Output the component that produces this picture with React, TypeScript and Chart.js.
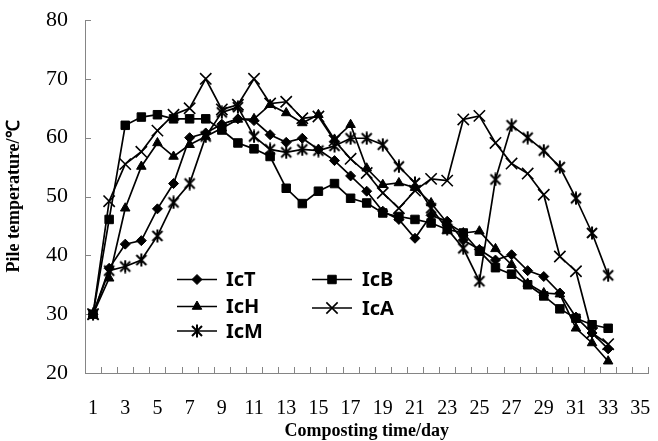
import React, { useEffect, useRef } from 'react';
import { Chart, registerables } from 'chart.js';
import { drawPoint } from 'chart.js/helpers';

Chart.register(...registerables);

const dayLabels = ['1','2','3','4','5','6','7','8','9','10','11','12','13','14','15','16','17','18','19','20','21','22','23','24','25','26','27','28','29','30','31','32','33','34','35'];
const yTicks = [20, 30, 40, 50, 60, 70, 80];

const IcT = [30, 37.8, 41.9, 42.5, 47.9, 52.2, 60.0, 60.8, 62.3, 63.2, 62.9, 60.5, 59.2, 59.9, 58.0, 56.1, 53.5, 50.9, 47.5, 46.1, 42.9, 46.8, 45.8, 42.6, 41.0, 39.2, 40.1, 37.4, 36.4, 33.6, 29.5, 26.8, 24.1];
const IcH = [30, 36.1, 48.0, 55.1, 59.1, 56.8, 58.8, 60.2, 61.6, 63.1, 63.2, 65.6, 64.2, 62.5, 63.9, 59.7, 62.2, 54.8, 52.0, 52.3, 51.5, 48.9, 45.5, 43.8, 44.1, 41.1, 38.4, 35.2, 33.6, 33.4, 27.6, 25.1, 22.0];
const IcM = [30, 37.4, 38.1, 39.2, 43.3, 49.0, 52.2, 60.2, 64.3, 65.2, 60.2, 58.0, 57.5, 58.0, 57.8, 58.6, 59.9, 59.9, 58.8, 55.1, 52.3, 48.0, 44.5, 41.2, 35.6, 52.9, 62.1, 60.0, 57.8, 55.0, 49.7, 43.8, 36.6];
const IcB = [30, 46.1, 62.1, 63.5, 63.9, 63.2, 63.2, 63.2, 61.3, 59.1, 58.1, 56.8, 51.4, 48.8, 50.9, 52.2, 49.7, 48.9, 47.2, 46.6, 46.1, 45.5, 44.4, 43.8, 40.7, 37.9, 36.8, 35.0, 33.1, 30.9, 29.3, 28.2, 27.6];
const IcA = [30, 49.2, 55.5, 57.6, 61.2, 63.9, 65.0, 70.0, 64.8, 65.6, 70.0, 65.8, 66.1, 63.3, 63.6, 59.5, 56.4, 54.0, 50.6, 48.0, 51.0, 53.0, 52.7, 63.1, 63.7, 59.1, 55.6, 53.9, 50.3, 39.8, 37.3, 26.8, 24.9];

const seriesNames = ['IcT', 'IcH', 'IcM', 'IcB', 'IcA'];

const AXIS = '#858585';

function makeAsterisk(): HTMLCanvasElement {
  const c = document.createElement('canvas');
  c.width = 14; c.height = 14;
  const g = c.getContext('2d')!;
  g.strokeStyle = '#000';
  g.lineWidth = 2;
  g.beginPath();
  g.moveTo(2, 2); g.lineTo(12, 12);
  g.moveTo(12, 2); g.lineTo(2, 12);
  g.moveTo(7, 0.5); g.lineTo(7, 13.5);
  g.stroke();
  return c;
}

const insideTicks = {
  id: 'insideTicks',
  beforeDatasetsDraw(chart: any) {
    const { ctx, chartArea, scales } = chart;
    const xs = scales.x, ys = scales.y;
    ctx.save();
    ctx.strokeStyle = AXIS;
    ctx.lineWidth = 1;
    ctx.beginPath();
    ys.ticks.forEach((t: any) => {
      const py = Math.round(ys.getPixelForValue(t.value)) + 0.5;
      ctx.moveTo(chartArea.left, py);
      ctx.lineTo(chartArea.left + 6, py);
    });
    for (let i = 0; i <= dayLabels.length; i++) {
      const px = Math.round(xs.getPixelForValue(i - 0.5)) + 0.5;
      ctx.moveTo(px, chartArea.bottom);
      ctx.lineTo(px, chartArea.bottom - 6);
    }
    ctx.stroke();
    ctx.restore();
  },
};

const legendLayout = [
  { idx: 0, x0: 177, x1: 217, tx: 226, y: 279.5 },
  { idx: 1, x0: 177, x1: 217, tx: 226, y: 306.5 },
  { idx: 2, x0: 177, x1: 217, tx: 226, y: 331 },
  { idx: 3, x0: 312, x1: 352, tx: 362, y: 279.5 },
  { idx: 4, x0: 312, x1: 352, tx: 362, y: 308 },
];

const customLegend = {
  id: 'customLegend',
  afterDatasetsDraw(chart: any) {
    const { ctx } = chart;
    ctx.save();
    legendLayout.forEach((it) => {
      const ds = chart.data.datasets[it.idx];
      ctx.strokeStyle = '#000';
      ctx.lineWidth = ds.borderWidth;
      ctx.beginPath();
      ctx.moveTo(it.x0, it.y);
      ctx.lineTo(it.x1, it.y);
      ctx.stroke();
      ctx.fillStyle = '#000';
      ctx.strokeStyle = '#000';
      ctx.lineWidth = ds.pointBorderWidth;
      drawPoint(ctx, { pointStyle: ds.pointStyle, radius: ds.pointRadius, rotation: 0, borderWidth: ds.pointBorderWidth } as any, (it.x0 + it.x1) / 2, it.y);
      ctx.fillStyle = '#000';
      ctx.font = 'bold 20px "Noto Sans", "DejaVu Sans", sans-serif';
      ctx.textAlign = 'left';
      ctx.textBaseline = 'middle';
      ctx.fillText(ds.label, it.tx, it.y + 1);
    });
    ctx.restore();
  },
};

export default function App() {
  const ref = useRef<HTMLCanvasElement | null>(null);
  useEffect(() => {
    if (!ref.current) return;
    const asterisk = makeAsterisk();
    const base = {
      borderColor: '#000',
      backgroundColor: '#000',
      pointBackgroundColor: '#000',
      pointBorderColor: '#000',
      borderWidth: 1.7,
      tension: 0,
      fill: false,
    };
    const chart = new Chart(ref.current, {
      type: 'line',
      data: {
        labels: dayLabels,
        datasets: [
          { ...base, label: seriesNames[0], data: IcT, pointStyle: 'rectRot', pointRadius: 5, pointBorderWidth: 1 },
          { ...base, label: seriesNames[1], data: IcH, pointStyle: 'triangle', pointRadius: 5.5, pointBorderWidth: 1 },
          { ...base, label: seriesNames[2], data: IcM, pointStyle: asterisk as any, pointRadius: 7, pointBorderWidth: 1 },
          { ...base, label: seriesNames[3], data: IcB, pointStyle: 'rect', pointRadius: 6, pointBorderWidth: 1 },
          { ...base, label: seriesNames[4], data: IcA, pointStyle: 'crossRot', pointRadius: 8, pointBorderWidth: 1.6 },
        ],
      },
      options: {
        responsive: false,
        animation: false,
        devicePixelRatio: 1,
        layout: { padding: { top: 20, right: 3, left: 0, bottom: 0 } },
        plugins: { legend: { display: false }, tooltip: { enabled: false } },
        scales: {
          x: {
            type: 'category',
            offset: true,
            grid: { display: false, drawTicks: false, offset: true },
            border: { display: true, color: AXIS, width: 1 },
            ticks: {
              autoSkip: false,
              maxRotation: 0,
              minRotation: 0,
              padding: 24,
              color: '#000',
              font: { family: '"Liberation Serif", serif', size: 20 },
              callback: (_v: any, i: number) => (i % 2 === 0 ? dayLabels[i] : ''),
            },
            title: {
              display: true,
              text: 'Composting time/day',
              color: '#000',
              font: { family: '"Liberation Serif", serif', size: 18, weight: 'bold' },
              padding: { top: 0, bottom: -1 },
            },
            afterFit: (s: any) => { s.height = 68; s.paddingLeft = 0; s.paddingRight = 0; },
          },
          y: {
            min: 20,
            max: 80,
            grid: { display: false, drawTicks: false },
            border: { display: true, color: AXIS, width: 1 },
            ticks: {
              stepSize: 10,
              padding: 17,
              color: '#000',
              font: { family: '"Liberation Serif", serif', size: 22 },
              callback: (v: any) => (yTicks.includes(v) ? String(v) : ''),
            },
            title: {
              display: true,
              text: 'Pile temperature/℃',
              color: '#000',
              font: { family: '"Liberation Serif", serif', size: 18, weight: 'bold' },
              padding: { top: 4, bottom: 0 },
            },
            afterFit: (s: any) => { s.width = 85; s.paddingTop = 0; s.paddingBottom = 0; },
          },
        },
      },
      plugins: [insideTicks, customLegend],
    } as any);
    return () => chart.destroy();
  }, []);
  return (
    <div style={{ position: 'absolute', left: 0, top: 0, width: 658, height: 441, background: '#fff' }}>
      <canvas ref={ref} width={658} height={441} style={{ display: 'block' }} />
    </div>
  );
}
